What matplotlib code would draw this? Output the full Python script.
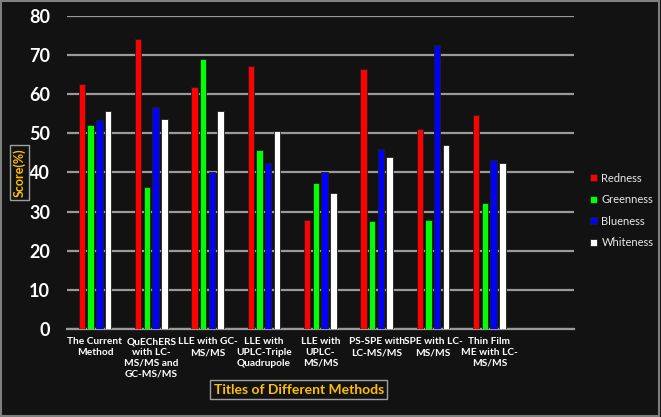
import matplotlib
matplotlib.use("Agg")
import matplotlib.pyplot as plt
import numpy as np

# --- Data

methods = [
    "The Current\nMethod",
    "QuEChERS\nwith LC-\nMS/MS and\nGC-MS/MS",
    "LLE with GC-\nMS/MS",
    "LLE with\nUPLC-Triple\nQuadrupole",
    "LLE with\nUPLC-\nMS/MS",
    "PS-SPE with\nLC-MS/MS",
    "SPE with LC-\nMS/MS",
    "Thin Film\nME with LC-\nMS/MS",
    "",
]
redness = [62.6, 74.2, 61.7, 67.1, 27.8, 66.3, 51.2, 54.6, 0]
greenness = [52.0, 36.4, 68.9, 45.7, 37.3, 27.5, 27.9, 32.2, 0]
blueness = [53.4, 56.6, 40.2, 42.3, 40.2, 46.1, 72.5, 43.1, 0]
whiteness = [55.8, 53.6, 55.6, 50.6, 34.8, 43.9, 47.1, 42.3, 0]

series = ["Redness", "Greenness", "Blueness", "Whiteness"]
colors = ["#ff0000", "#00ff00", "#0000ff", "#ffffff"]

bg = "#121212"
gold = "#ffc000"
plt.rcParams["font.family"] = ["Lato", "DejaVu Sans"]

fig = plt.figure(figsize=(6.61, 4.17), dpi=100, facecolor=bg)
ax = fig.add_axes([0.101, 0.211, 0.767, 0.751], facecolor=bg)

x = np.arange(len(methods))
width = 0.115
step = 0.154
for i, (name, vals, c) in enumerate(zip(series, [redness, greenness, blueness, whiteness], colors)):
    ax.bar(x + (i - 1.5) * step, vals, width, color=c, edgecolor="#202020",
           linewidth=0.6, label=name, zorder=3)

ax.set_xlim(-0.5, len(methods) - 0.5)
ax.set_ylim(0, 80)
ax.set_yticks(range(0, 81, 10))
ax.yaxis.grid(True, color="#9a9a9a", linewidth=1.6, zorder=0)
ax.set_axisbelow(True)
for s in ["top", "right", "left"]:
    ax.spines[s].set_visible(False)
ax.spines["bottom"].set_color("#9a9a9a")
ax.spines["bottom"].set_linewidth(1.6)
ax.tick_params(length=0)
ax.tick_params(axis="y", pad=12, labelsize=13, labelcolor="white")
ax.tick_params(axis="x", pad=6, labelsize=7.3, labelcolor="white")
for t in ax.get_yticklabels():
    t.set_fontweight("bold")
ax.set_xticks(x)
ax.set_xticklabels(methods, fontweight="bold", linespacing=1.25)

box = dict(boxstyle="square,pad=0.25", facecolor=bg, edgecolor="#a0a0a0", linewidth=1)
fig.text(0.029, 0.587, "Score(%)", rotation=90, color=gold, fontsize=9,
         fontweight="bold", ha="center", va="center", bbox=box)
fig.text(0.452, 0.065, "Titles of Different Methods", color=gold, fontsize=10,
         fontweight="bold", ha="center", va="center", bbox=box)

leg = fig.legend(loc="center left", bbox_to_anchor=(0.893, 0.495), frameon=False,
                 fontsize=8, labelcolor="#e8e8e8", handlelength=0.6,
                 handleheight=0.6, handletextpad=0.4, labelspacing=0.95,
                 borderpad=0, borderaxespad=0)

fig.patches.append(plt.Rectangle((0.002, 0.003), 0.995, 0.994, transform=fig.transFigure,
                                 fill=False, edgecolor="#808080", linewidth=1.5))

fig.savefig("out.png", dpi=100, facecolor=bg)
